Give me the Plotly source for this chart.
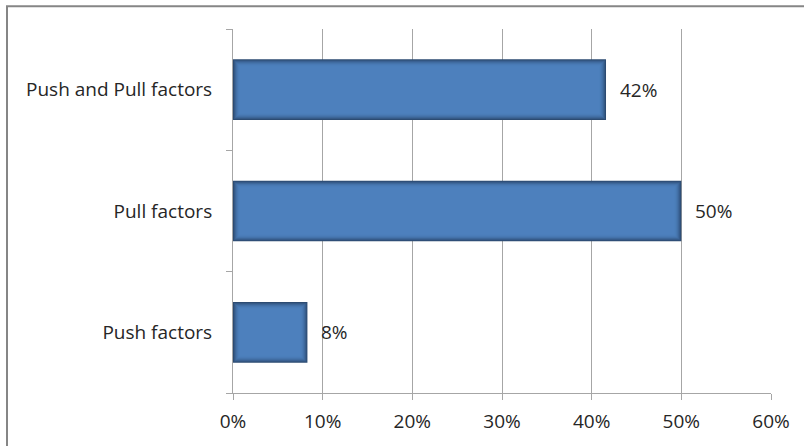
import plotly.graph_objects as go

# Share of respondents by migration-factor type
categories = ["Push factors", "Pull factors", "Push and Pull factors"]
shares = [0.083, 0.50, 0.416]
x_ticks = [0, 0.1, 0.2, 0.3, 0.4, 0.5, 0.6]
x_tick_labels = ["0%", "10%", "20%", "30%", "40%", "50%", "60%"]

W, H = 804, 446
M_L, M_R, M_T, M_B = 233, 33, 29, 48
X_RANGE = [0, 0.6]
plot_w = W - M_L - M_R
plot_h = H - M_T - M_B
px_x = (X_RANGE[1] - X_RANGE[0]) / plot_w          # one pixel in x data units
px_y = len(categories) / plot_h                     # one pixel in category units

TEXT = "#262626"
GRID = "#a6a6a6"
FONT = "Open Sans"
FSIZE = 19
BAR_W = 0.5

# Soft inner shadow: nested layers blend from a dark rim to the bar face
RIM = (0x2c, 0x4b, 0x72)
FACE = (0x4d, 0x80, 0xbd)
N_LAYERS = 8


def blend(t):
    t = 1 - (1 - t) ** 2
    r, g, b = (round(a + (c - a) * t) for a, c in zip(RIM, FACE))
    return f"rgb({r},{g},{b})"


fig = go.Figure()
for i in range(N_LAYERS):
    dx = i * px_x
    dy = i * px_y
    fig.add_trace(go.Bar(
        y=categories,
        x=[v - 2 * dx for v in shares],
        base=[dx] * len(shares),
        orientation="h",
        width=[BAR_W - 2 * dy] * len(shares),
        marker=dict(color=blend(i / (N_LAYERS - 1)), line=dict(width=0)),
        hoverinfo="skip",
        showlegend=False,
    ))

for cat, v in zip(categories, shares):
    fig.add_annotation(
        x=v, y=cat, text=f"{v:.0%}", showarrow=False,
        xanchor="left", yanchor="middle", xshift=12,
        font=dict(family=FONT, size=FSIZE, color=TEXT),
    )

# Outer chart frame (only its top and left sides fall inside the canvas)
fig.add_shape(
    type="rect", xref="paper", yref="paper",
    x0=(7 - M_L) / plot_w, x1=(W + 40 - M_L) / plot_w,
    y0=(-40 - M_B) / plot_h, y1=(H - 6 - M_B) / plot_h,
    line=dict(color="#868686", width=2), fillcolor="rgba(0,0,0,0)",
    layer="below",
)

fig.update_layout(
    width=W, height=H,
    margin=dict(l=M_L, r=M_R, t=M_T, b=M_B, pad=0),
    paper_bgcolor="white", plot_bgcolor="white",
    barmode="overlay",
    font=dict(family=FONT, size=FSIZE, color=TEXT),
    xaxis=dict(
        range=X_RANGE, tickvals=x_ticks, ticktext=x_tick_labels,
        showgrid=True, gridcolor=GRID, gridwidth=1,
        showline=True, linecolor=GRID, linewidth=1,
        ticks="outside", ticklen=6, tickcolor=GRID,
        ticklabelstandoff=5, zeroline=False,
        tickfont=dict(family=FONT, size=FSIZE, color=TEXT),
    ),
    yaxis=dict(
        categoryorder="array", categoryarray=categories,
        range=[-0.5, 2.5],
        showgrid=False, showline=True, linecolor=GRID, linewidth=1,
        ticks="outside", ticklen=6, tickcolor=GRID, tickson="boundaries",
        ticklabelstandoff=16,
        tickfont=dict(family=FONT, size=FSIZE, color=TEXT),
    ),
)

fig.write_html("out.html")
